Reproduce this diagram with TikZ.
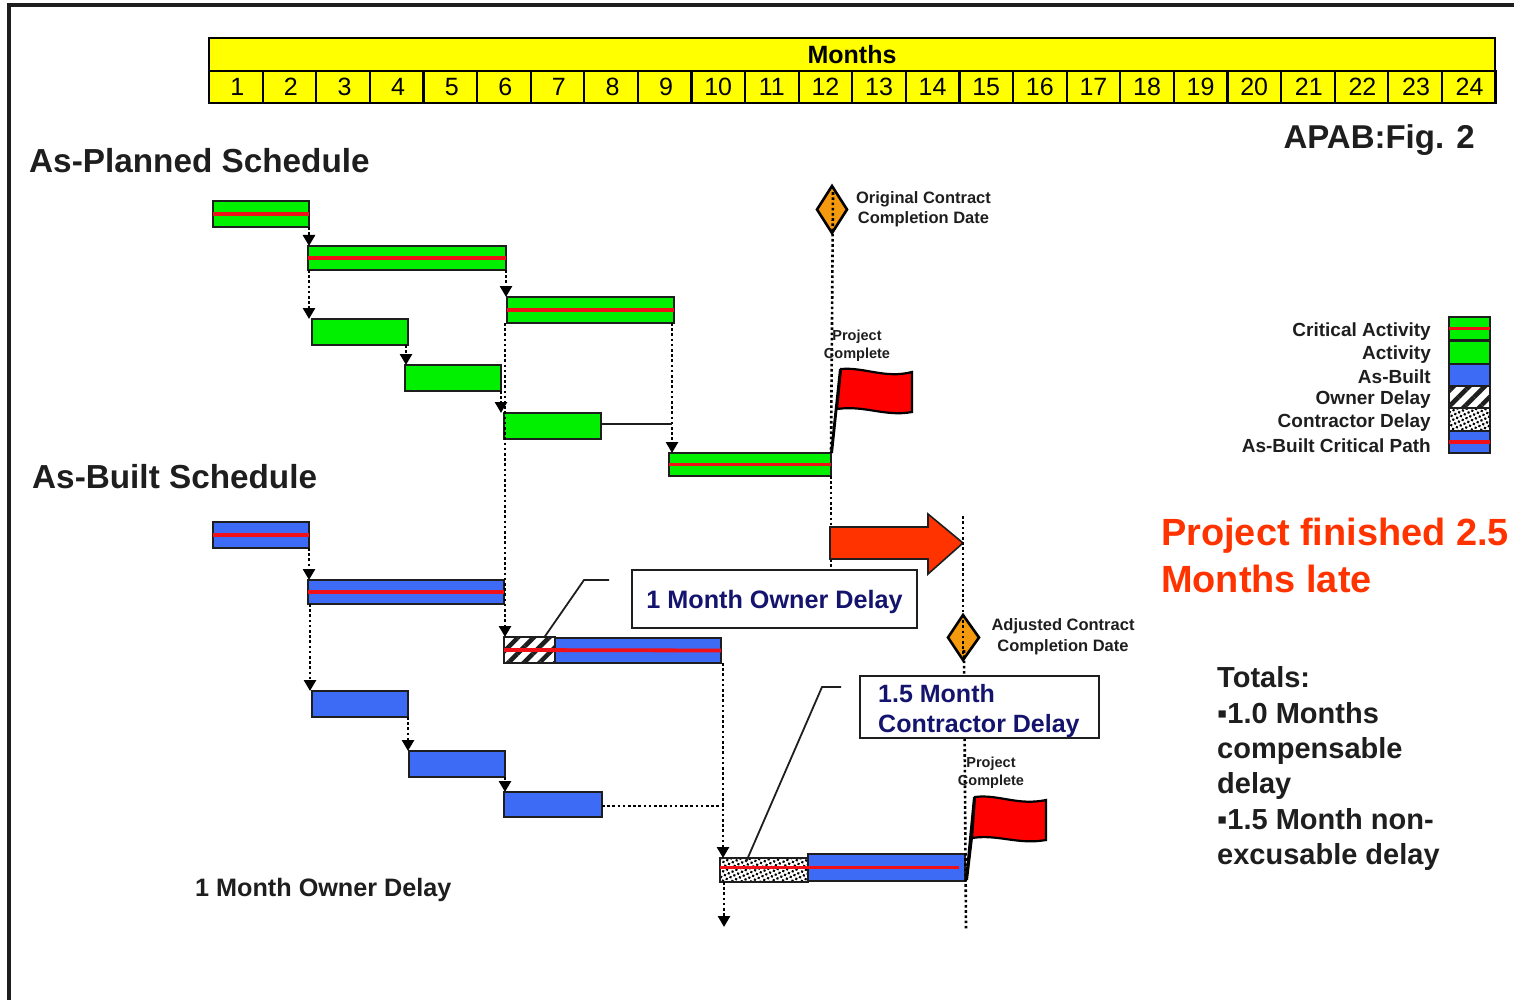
\documentclass[tikz,border=0pt]{standalone}
\usepackage{fontspec}
\setmainfont{Liberation Sans}
\usetikzlibrary{arrows.meta,patterns,patterns.meta,calc}
\definecolor{barG}{HTML}{00F000}
\definecolor{barB}{HTML}{3D6BF5}
\definecolor{critR}{HTML}{F21018}
\definecolor{yel}{HTML}{FFFF00}
\definecolor{ora}{HTML}{F59A0E}
\definecolor{late}{HTML}{FF3300}
\definecolor{navy}{HTML}{14146E}
\definecolor{ink}{HTML}{1E1E1E}
\newcommand{\fs}[1]{\fontsize{#1}{#1}\selectfont\bfseries}
\tikzset{
  x=1pt,y=-1pt,
  barbox/.style={draw=ink,line width=2.2pt,inner sep=0pt,outer sep=0pt},
  greenbar/.style={barbox,fill=barG},
  bluebar/.style={barbox,fill=barB},
  hatchbar/.style={barbox,fill=white,pattern={Lines[angle=45,distance=11pt,line width=4.5pt]},pattern color=ink},
  specklebar/.style={barbox,fill=white,pattern={Dots[distance=4.2pt,radius=1.5pt,angle=25]},pattern color=black},
  critline/.style={draw=critR,line width=3.8pt},
  linkdot/.style={draw=black,line width=2.6pt,dash pattern=on 2.6pt off 2.6pt,-{Triangle[width=12pt,length=11pt]}},
  plaindot/.style={draw=black,line width=2.6pt,dash pattern=on 2.6pt off 2.6pt},
  cell/.style={draw=black,line width=2.2pt,fill=yel,inner sep=0pt,outer sep=0pt,minimum height=32pt,minimum width=53.6pt,font=\fontsize{25}{25}\selectfont},
  heading/.style={text=ink,font=\fs{33.3},inner sep=0pt,anchor=west},
  smalllab/.style={text=ink,font=\fs{16.5},inner sep=0pt,align=center,text height=12pt,text depth=3pt},
  flaglab/.style={text=ink,font=\fs{14.5},inner sep=0pt,align=center},
  leglab/.style={text=ink,font=\fs{19},inner sep=0pt,anchor=east},
  leg/.style={draw=ink,line width=2pt,inner sep=0pt,outer sep=0pt,minimum width=41pt},
  callout/.style={draw=ink,line width=2pt,fill=white,inner sep=0pt,outer sep=0pt},
  leader/.style={draw=ink,line width=1.8pt},
  flagcloth/.style={draw=black,line width=2.2pt,fill=red},
  miles/.style={draw=black,line width=2.6pt,fill=ora},
  totals/.style={text=ink,font=\fs{29},inner sep=0pt,anchor=base west},
}
\newcommand{\barn}[6]{\node[#6,minimum width={(#4-#2)*1pt},minimum height={(#5-#3)*1pt}] (#1) at ({(#2+#4)/2},{(#3+#5)/2}) {};}
\begin{document}
\begin{tikzpicture}
\useasboundingbox (0,0) rectangle (1514,1000);
% frame
\coordinate (fa) at (9,1000); \coordinate (fb) at (9,5); \coordinate (fc) at (1514,5);
\draw[line width=3.6pt,draw=ink] (fa) -- (fb) -- (fc);
% header
\node[cell,minimum width=1286pt,minimum height=33pt,font=\fs{25}] (months) at (852,54.5) {Months};
\foreach \i in {1,...,24}{
  \pgfmathsetmacro{\cx}{209+53.6*(\i-0.5)}
  \pgfmathsetmacro{\sh}{\i<10?3:(\i<21?0:2)}
  \node[cell] (m\i) at (\cx,87) {\hspace*{\sh pt}\i};
}
\node[heading] (planned) at (29,161) {As-Planned Schedule};
\node[heading] (built) at (32,477) {As-Built Schedule};
\node[text=ink,font=\fs{33},inner sep=0pt,anchor=east] (fig) at (1475,140) {APAB:Fig. 2};

% as-planned bars
\barn{b1}{213}{201}{309}{227}{greenbar}
\barn{b2}{308}{246}{506}{270}{greenbar}
\barn{b3}{312}{319}{408}{345}{greenbar}
\barn{b4}{405}{365}{501}{391}{greenbar}
\barn{b5}{504}{413}{601}{439}{greenbar}
\barn{b6}{507}{297}{674}{323}{greenbar}
\barn{b7}{669}{453}{831}{476}{greenbar}
\foreach \n in {b1,b2,b6,b7}{\draw[critline] (\n.west) -- (\n.east);}
% as-built bars
\barn{a1}{213}{522}{309}{548}{bluebar}
\barn{a2}{308}{580}{504}{604}{bluebar}
\barn{a3}{312}{691}{408}{717}{bluebar}
\barn{a4}{409}{751}{505}{777}{bluebar}
\barn{a5}{504}{792}{602}{817}{bluebar}
\barn{a7}{555}{638}{721}{663}{bluebar}
\barn{a6}{504}{637}{555}{663}{hatchbar}
\barn{a9}{808}{854}{965}{881}{bluebar}
\barn{a8}{720}{858}{808}{882}{specklebar}
\draw[critline] (a1.west) -- (a1.east);
\draw[critline] (a2.west) -- (a2.east);
\draw[critline] (a6.west) -- (a7.east);
\draw[critline] (a8.west |- a9.west) -- ([xshift=-6pt]a9.east);

% links as-planned
\draw[linkdot] (b1.south east) -- (b1.south east |- b2.north);
\draw[linkdot] ([xshift=1pt]b2.south west) -- ([xshift=1pt]b2.south west |- b3.north);
\draw[linkdot] ([xshift=-2pt]b3.south east) -- ([xshift=-2pt]b3.south east |- b4.north);
\draw[linkdot] (b4.south east) -- (b4.south east |- b5.north);
\draw[linkdot] (b2.south east) -- (b2.south east |- b6.north);
\draw[linkdot] ([xshift=-2pt]b6.south east) -- ([xshift=-2pt]b6.south east |- b7.north);
\draw[line width=1.8pt,draw=ink] ([yshift=2pt]b5.east) -- ([shift={(-2pt,2pt)}]b5.east -| b6.south east);
\draw[linkdot] ([xshift=-2pt]b6.south west) -- ([xshift=-2pt]b6.south west |- a6.north);
% links as-built
\draw[linkdot] (a1.south east) -- (a1.south east |- a2.north);
\draw[linkdot] ([xshift=2pt]a2.south west) -- ([xshift=2pt]a2.south west |- a3.north);
\draw[linkdot] (a3.south east) -- (a3.south east |- a4.north);
\draw[linkdot] (a4.south east) -- (a4.south east |- a5.north);
\coordinate (endarrow) at (724,927);
\draw[linkdot] ([xshift=2pt]a7.south east) -- ([xshift=2pt]a7.south east |- a8.north);
\draw[linkdot] ([xshift=4pt]a8.south west) -- (endarrow);
\draw[plaindot] ([yshift=-1.5pt]a5.east) -- ([yshift=-1.5pt]a5.east -| endarrow);

% milestone 1
\path[miles] (832,186) -- (847,209.5) -- (832,233) -- (817,209.5) -- cycle;
\node[inner sep=0pt,minimum size=0pt] (mt1) at (833,192) {};
\draw[plaindot] (mt1) -- (b7.north east);
\node[smalllab] (ocd) at (923.5,199) {Original Contract};
\node[smalllab] (ocd2) at (923.5,219) {Completion Date};
\draw[plaindot] (b7.south east) -- ++(0,94);
% flag 1
\coordinate (p1a) at (830,453); \coordinate (p1b) at (839,369);
\fill[black] (p1a) -- (p1b) -- (846,370) -- (838,405) -- (833,453) -- cycle;
\path[flagcloth] (841,369) .. controls (865,367) and (885,379) .. (912,372) -- (912,412) .. controls (885,417) and (865,405) .. (837,409) -- cycle;
\node[flaglab] (pc1) at (857,337) {Project};
\node[flaglab] (pc1b) at (857,355) {Complete};

% big arrow
\path[fill=late,draw=ink,line width=1.6pt] (830,527) -- (928,527) -- (928,514) -- (963,543) -- (928,574) -- (928,559) -- (830,559) -- cycle;

% milestone 2
\path[miles] (963,615) -- (979,637.5) -- (963,660) -- (948,637.5) -- cycle;
\node[inner sep=0pt,minimum size=0pt] (mt2) at (963,516) {};
\node[inner sep=0pt,minimum size=0pt] (mb2) at (964,650) {};
\node[inner sep=0pt,minimum size=0pt] (mf2) at (966,930) {};
\draw[plaindot] (mt2) -- (963,655);
\draw[plaindot] (mb2) -- (mf2);
\node[smalllab] (acd) at (1063,626) {Adjusted Contract};
\node[smalllab] (acd2) at (1063,647) {Completion Date};
% flag 2
\fill[black] (965,880) -- (973,797) -- (980,798) -- (973,838) -- (968,880) -- cycle;
\path[flagcloth] (975,797) .. controls (998,794) and (1018,806) .. (1046,800) -- (1046,840) .. controls (1018,845) and (998,834) .. (972,838) -- cycle;
\node[flaglab] (pc2) at (991,764) {Project};
\node[flaglab] (pc2b) at (991,782) {Complete};

% callouts
\node[callout,minimum width=285pt,minimum height=58pt] (c1) at (774.5,599) {};
\node[text=navy,font=\fs{25.2},inner sep=0pt] (c1t) at (774.5,602) {1 Month Owner Delay};
\coordinate (l1a) at (584,580); \coordinate (l1b) at (609,580);
\draw[leader] ([xshift=15pt]a6.north) -- (l1a) -- (l1b);
\node[callout,minimum width=239pt,minimum height=62pt] (c2) at (979.5,707) {};
\node[text=navy,font=\fs{25},inner sep=0pt,anchor=west] (c2t) at (878,694) {1.5 Month};
\node[text=navy,font=\fs{25},inner sep=0pt,anchor=west] (c2u) at (878,726) {Contractor Delay};
\coordinate (l2a) at (822,687); \coordinate (l2b) at (841,687);
\draw[leader] ([shift={(26pt,-4pt)}]a8.north west) -- (l2a) -- (l2b);

\node[text=ink,font=\fs{25.2},inner sep=0pt,anchor=west] (omd) at (195,890) {1 Month Owner Delay};

% legend
\node[leg,fill=barG,minimum height=23pt] (g1) at (1469.5,328.5) {};
\draw[critline] (g1.west) -- (g1.east);
\node[leg,fill=barG,minimum height=23pt] (g2) at (1469.5,352) {};
\node[leg,fill=barB,minimum height=22pt] (g3) at (1469.5,375) {};
\node[leg,fill=white,pattern={Lines[angle=45,distance=11pt,line width=4.5pt]},pattern color=ink,minimum height=22pt] (g4) at (1469.5,397) {};
\node[leg,fill=white,pattern={Dots[distance=4.2pt,radius=1.5pt,angle=25]},pattern color=black,minimum height=23pt] (g5) at (1469.5,419.5) {};
\node[leg,fill=barB,minimum height=22pt] (g6) at (1469.5,442) {};
\draw[critline] (g6.west) -- (g6.east);
\node[leglab] (l1) at (1431,332) {Critical Activity};
\node[leglab] (l2) at (1431,355) {Activity};
\node[leglab] (l3) at (1431,377) {As-Built};
\node[leglab] (l4) at (1431,400) {Owner Delay};
\node[leglab] (l5) at (1431,423) {Contractor Delay};
\node[leglab] (l6) at (1431,446) {As-Built Critical Path};

% right texts
\node[text=late,font=\fs{37.9},inner sep=0pt,anchor=west] (pf1) at (1161,536) {Project finished 2.5};
\node[text=late,font=\fs{37.9},inner sep=0pt,anchor=west] (pf2) at (1161,579) {Months late};
\node[totals] (t1) at (1217,687) {Totals:};
\node[totals] (t2) at (1217,723) {▪1.0 Months};
\node[totals] (t3) at (1217,758) {compensable};
\node[totals] (t4) at (1217,793) {delay};
\node[totals] (t5) at (1217,829) {▪1.5 Month non-};
\node[totals] (t6) at (1217,864) {excusable delay};
\end{tikzpicture}
\end{document}
